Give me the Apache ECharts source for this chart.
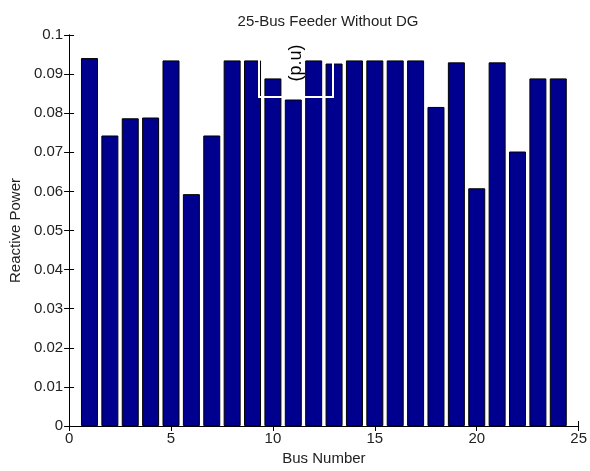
<!DOCTYPE html>
<html>
<head>
<meta charset="utf-8">
<script src="https://cdn.jsdelivr.net/npm/echarts@6/dist/echarts.min.js"></script>
<style>
  html, body { margin: 0; padding: 0; background: #fff; }
  #chart { width: 590px; height: 471px; }
</style>
</head>
<body>
<div id="chart"></div>
<script>
  // bus numbers and reactive power values
  const buses = [1, 2, 3, 4, 5, 6, 7, 8, 9, 10, 11, 12, 13, 14, 15, 16, 17, 18, 19, 20, 21, 22, 23, 24]
  const reactive = [0.0941, 0.0743, 0.0787, 0.0789, 0.0935, 0.0593, 0.0743, 0.0935, 0.0935, 0.0889, 0.0835, 0.0935,
    0.0927, 0.0935, 0.0935, 0.0935, 0.0935, 0.0816, 0.0930, 0.0608, 0.0930, 0.0702, 0.0889, 0.0889]

  const font = 'Liberation Sans, Arial, sans-serif'
  const chart = echarts.init(document.getElementById('chart'), null, { renderer: 'canvas' })

  const axisLine = { show: true, lineStyle: { color: '#000', width: 1 } }
  const tick = { show: true, inside: true, length: 5, lineStyle: { color: '#000' } }

  chart.setOption({
    animation: false,
    backgroundColor: '#fff',
    title: {
      text: '25-Bus Feeder Without DG',
      left: 323,
      top: 9,
      textAlign: 'center',
      textStyle: { fontFamily: font, fontSize: 15, fontWeight: 'normal', color: '#222' }
    },
    grid: { left: 68, right: 7, top: 35, bottom: 41 },
    xAxis: [{
      type: 'value',
      min: 0,
      max: 25,
      interval: 5,
      name: 'Bus Number',
      nameLocation: 'middle',
      nameGap: 25,
      nameTextStyle: { fontFamily: font, fontSize: 15, color: '#222' },
      axisLine: axisLine,
      axisTick: tick,
      splitLine: { show: false },
      axisLabel: { fontFamily: font, fontSize: 15, color: '#222', margin: 5 }
    }, {
      type: 'value',
      position: 'top',
      min: 0,
      max: 25,
      interval: 5,
      axisLine: axisLine,
      axisTick: tick,
      splitLine: { show: false },
      axisLabel: { show: false }
    }],
    yAxis: [{
      type: 'value',
      min: 0,
      max: 0.1,
      interval: 0.01,
      name: 'Reactive Power',
      nameLocation: 'middle',
      nameGap: 45,
      nameTextStyle: { fontFamily: font, fontSize: 15, color: '#222' },
      axisLine: axisLine,
      axisTick: tick,
      splitLine: { show: false },
      axisLabel: {
        fontFamily: font, fontSize: 15, color: '#222', margin: 6,
        formatter: v => (Math.round(v * 100) / 100).toString()
      }
    }, {
      type: 'value',
      position: 'right',
      min: 0,
      max: 0.1,
      interval: 0.01,
      axisLine: axisLine,
      axisTick: tick,
      splitLine: { show: false },
      axisLabel: { show: false }
    }],
    series: [{
      type: 'bar',
      barWidth: 17,
      data: buses.map((b, i) => [b, reactive[i]]),
      itemStyle: { color: '#00008f', borderColor: '#000', borderWidth: 1 }
    }],
    graphic: [{
      type: 'rect',
      z: 100,
      shape: { x: 259, y: 35, width: 74, height: 62 },
      style: { fill: 'none', stroke: '#fff', lineWidth: 2 }
    }, {
      type: 'text',
      z: 101,
      x: 296,
      y: 63,
      rotation: Math.PI / 2,
      style: {
        text: '(p.u)',
        fontFamily: font,
        fontSize: 18,
        fill: '#000',
        align: 'center',
        verticalAlign: 'middle'
      }
    }]
  })
</script>
</body>
</html>
